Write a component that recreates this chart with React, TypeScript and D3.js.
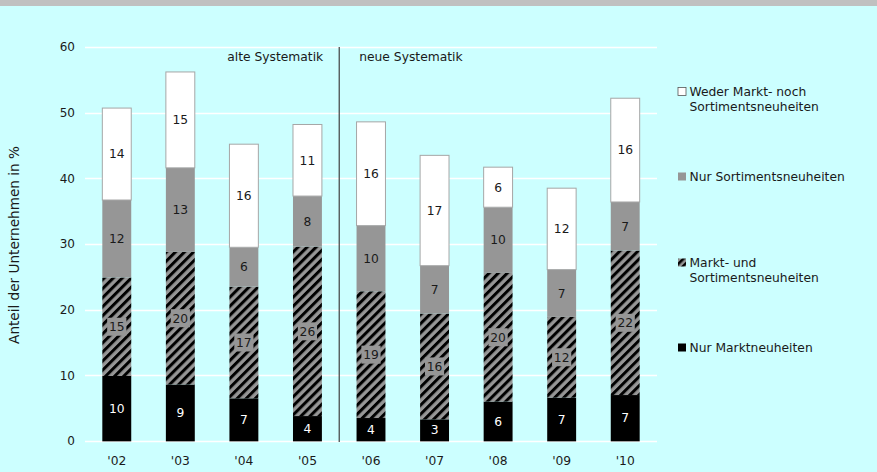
import React from "react";
import * as d3 from "d3";

const years = ["'02", "'03", "'04", "'05", "'06", "'07", "'08", "'09", "'10"];
const nurMarkt = [9.9, 8.6, 6.5, 3.8, 3.5, 3.3, 6.0, 6.6, 7.0];
const marktUndSortiment = [15.0, 20.2, 17.0, 25.8, 19.3, 16.1, 19.6, 12.3, 22.0];
const nurSortiment = [11.8, 12.8, 6.0, 7.7, 10.0, 7.3, 10.0, 7.2, 7.4];
const weder = [14.0, 14.6, 15.7, 10.9, 15.8, 16.8, 6.1, 12.4, 15.8];
const yTicks = [0, 10, 20, 30, 40, 50, 60];

const legendLines = [
  ["Weder Markt- noch", "Sortimentsneuheiten"],
  ["Nur Sortimentsneuheiten"],
  ["Markt- und", "Sortimentsneuheiten"],
  ["Nur Marktneuheiten"],
];

const W = 877;
const H = 472;
const FONT = "DejaVu Sans, Verdana, sans-serif";
const FS = 12.3;

export default function App() {
  const x = d3
    .scaleBand<string>()
    .domain(years)
    .range([85, 657])
    .paddingInner(0.545)
    .paddingOuter(0.2725);
  const y = d3.scaleLinear().domain([0, 60]).range([441, 47]);

  const series = [nurMarkt, marktUndSortiment, nurSortiment, weder];
  const fills = ["#000000", "url(#hatch)", "#969696", "#ffffff"];
  const labelColors = ["#ffffff", "#1a1a1a", "#1a1a1a", "#1a1a1a"];

  const rows = years.map((yr, i) => {
    const r: any = { year: yr };
    series.forEach((s, k) => (r["s" + k] = s[i]));
    return r;
  });
  const stack = d3.stack<any>().keys(["s0", "s1", "s2", "s3"]);
  const stacked = stack(rows);

  const bw = x.bandwidth();
  const divX = (x("'05")! + bw + x("'06")!) / 2;

  const legendItems = [
    { fill: "#ffffff", lines: legendLines[0], y: 91.5 },
    { fill: "#969696", lines: legendLines[1], y: 176.5 },
    { fill: "url(#hatchLegend)", lines: legendLines[2], y: 262.5 },
    { fill: "#000000", lines: legendLines[3], y: 347.5 },
  ];

  return (
    <svg
      width={W}
      height={H}
      style={{ position: "absolute", left: 0, top: 0 }}
      fontFamily={FONT}
    >
      <defs>
        <pattern
          id="hatch"
          patternUnits="userSpaceOnUse"
          width={6.4}
          height={6.4}
          patternTransform="rotate(45)"
        >
          <rect width={6.4} height={6.4} fill="#969696" />
          <rect width={3} height={6.4} fill="#000000" />
        </pattern>
        <pattern
          id="hatchLegend"
          patternUnits="userSpaceOnUse"
          width={5}
          height={5}
          patternTransform="rotate(45)"
        >
          <rect width={5} height={5} fill="#969696" />
          <rect width={2.5} height={5} fill="#000000" />
        </pattern>
      </defs>
      <rect x={0} y={0} width={W} height={H} fill="#ccffff" />
      <rect x={0} y={0} width={W} height={6} fill="#c0c0c0" />

      {yTicks.map((t) => (
        <g key={t}>
          <line
            x1={85}
            x2={657}
            y1={Math.round(y(t)) + 0.5}
            y2={Math.round(y(t)) + 0.5}
            stroke="#ffffff"
            strokeWidth={1.3}
          />
          <text
            x={75}
            y={y(t)}
            dy="0.35em"
            textAnchor="end"
            fontSize={12}
            fill="#1a1a1a"
          >
            {t}
          </text>
        </g>
      ))}

      <text
        transform={`translate(14,${y(30) + 1}) rotate(-90)`}
        textAnchor="middle"
        dy="0.35em"
        fontSize={13.6}
        fill="#1a1a1a"
      >
        Anteil der Unternehmen in %
      </text>

      {stacked.map((layer, k) => (
        <g key={k}>
          {layer.map((d, i) => {
            const x0 = x(years[i])!;
            const y0 = y(d[1]);
            const h = y(d[0]) - y(d[1]);
            return (
              <rect
                key={i}
                x={x0}
                y={y0}
                width={bw}
                height={h}
                fill={fills[k]}
                stroke={k === 3 ? "#a6a6a6" : "none"}
                strokeWidth={1}
              />
            );
          })}
        </g>
      ))}
      {years.map((yr) => (
        <line
          key={yr}
          x1={x(yr)!}
          x2={x(yr)! + bw}
          y1={441.5}
          y2={441.5}
          stroke="#a6a6a6"
          strokeWidth={1}
        />
      ))}

      {stacked.map((layer, k) => (
        <g key={"l" + k}>
          {layer.map((d, i) => {
            const cx = x(years[i])! + bw / 2;
            const cy = (y(d[0]) + y(d[1])) / 2;
            const lbl = String(Math.round(d[1] - d[0]));
            const tw = lbl.length * 7.6 + 4;
            return (
              <g key={i}>
                {k === 1 && (
                  <rect
                    x={cx - tw / 2}
                    y={cy - 9}
                    width={tw}
                    height={18}
                    fill="#969696"
                  />
                )}
                <text
                  x={cx}
                  y={cy}
                  dy="0.35em"
                  textAnchor="middle"
                  fontSize={FS}
                  fill={labelColors[k]}
                >
                  {lbl}
                </text>
              </g>
            );
          })}
        </g>
      ))}

      <line
        x1={divX}
        x2={divX}
        y1={47}
        y2={442}
        stroke="#404040"
        strokeWidth={1.2}
      />
      <text
        x={divX - 16}
        y={57}
        dy="0.35em"
        textAnchor="end"
        fontSize={FS}
        fill="#1a1a1a"
      >
        alte Systematik
      </text>
      <text
        x={divX + 20}
        y={57}
        dy="0.35em"
        textAnchor="start"
        fontSize={FS}
        fill="#1a1a1a"
      >
        neue Systematik
      </text>

      {years.map((yr) => (
        <text
          key={yr}
          x={x(yr)! + bw / 2}
          y={461}
          dy="0.35em"
          textAnchor="middle"
          fontSize={FS}
          fill="#1a1a1a"
        >
          {yr}
        </text>
      ))}

      {legendItems.map((it, i) => (
        <g key={i}>
          <rect
            x={678}
            y={it.y - 4}
            width={8}
            height={8}
            fill={it.fill}
            stroke={i === 0 ? "#555" : "none"}
            strokeWidth={0.8}
          />
          {it.lines.map((ln, j) => (
            <text
              key={j}
              x={689.5}
              y={it.y + j * 15}
              dy="0.35em"
              fontSize={FS}
              fill="#1a1a1a"
            >
              {ln}
            </text>
          ))}
        </g>
      ))}
    </svg>
  );
}
